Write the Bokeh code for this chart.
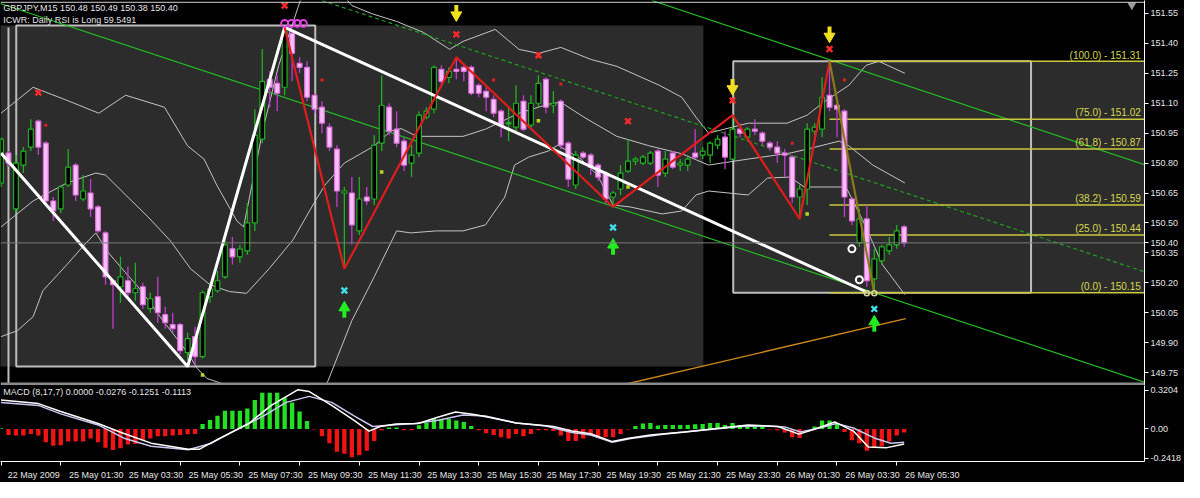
from bokeh.plotting import figure
from bokeh.layouts import column
from bokeh.models import Range1d, FixedTicker, Span, Label, PrintfTickFormatter
from bokeh.embed import file_html
from bokeh.resources import INLINE
from bokeh.core.properties import value

FONT = "Liberation Sans"
FS = "9px"
TXT = "#e4e4e4"

# ---------------- data ----------------
opens = [150.70,150.85,150.57,150.79,150.88,151.01,150.90,150.61,150.57,150.69,
         150.79,150.62,150.65,150.58,150.45,150.21,150.18,150.21,150.15,150.18,
         150.07,150.13,150.04,149.99,149.99,149.85,149.93,149.83,150.13,150.16,
         150.23,150.37,150.33,150.36,150.50,150.92,151.22,151.20,151.18,151.45,
         151.30,151.28,151.14,151.08,150.98,150.87,150.65,150.65,150.46,150.63,
         150.62,150.90,151.08,150.97,150.91,150.80,150.85,151.03,151.07,151.27,
         151.23,151.27,151.28,151.28,151.19,151.16,151.12,151.06,151.00,150.98,
         151.11,150.99,151.10,151.22,151.09,151.11,150.90,150.69,150.85,150.84,
         150.79,150.75,150.63,150.67,150.76,150.81,150.80,150.80,150.86,150.75,
         150.85,150.79,150.79,150.85,150.84,150.84,150.89,150.93,150.82,150.97,
         150.93,150.97,150.95,150.90,150.88,150.85,150.83,150.63,150.67,150.96,
         150.97,151.14,151.09,151.06,150.62,150.40,150.52,150.22,150.31,150.36,
         150.39,150.48]
highs = [150.93,150.86,150.84,150.88,151.02,151.02,150.91,150.63,150.69,150.87,
         150.80,150.74,150.72,150.59,150.46,150.22,150.33,150.28,150.30,150.20,
         150.15,150.23,150.08,150.05,150.00,149.95,149.98,150.16,150.20,150.26,
         150.44,150.43,150.39,150.60,151.07,151.37,151.26,151.24,151.48,151.47,
         151.33,151.31,151.15,151.11,151.00,150.89,150.68,150.73,150.73,150.68,
         150.94,151.24,151.10,151.06,150.93,150.89,151.06,151.08,151.29,151.29,
         151.28,151.33,151.30,151.29,151.20,151.18,151.14,151.07,151.08,151.19,
         151.14,151.14,151.24,151.23,151.16,151.12,150.91,150.86,150.86,150.85,
         150.80,150.76,150.66,150.79,150.92,150.83,150.84,150.86,150.87,150.86,
         150.86,150.82,150.83,150.97,150.88,150.91,150.94,150.96,151.04,151.00,
         150.98,151.02,150.96,150.91,150.91,150.87,150.84,150.69,151.00,151.00,
         151.23,151.31,151.10,151.07,150.63,150.57,150.59,150.37,150.39,150.43,
         150.49,150.49]
lows = [150.68,150.78,150.55,150.75,150.86,150.84,150.60,150.51,150.55,150.68,
        150.61,150.61,150.53,150.45,150.19,149.97,150.10,150.12,150.11,150.07,
        150.05,150.00,149.97,149.95,149.84,149.81,149.79,149.82,150.10,150.15,
        150.22,150.29,150.30,150.34,150.46,150.90,151.08,151.06,151.14,151.21,
        151.25,151.11,151.05,150.95,150.86,150.58,150.27,150.39,150.44,150.59,
        150.59,150.86,150.94,150.88,150.76,150.73,150.83,151.02,151.05,151.18,
        151.20,151.22,151.21,151.14,151.13,151.06,151.03,150.93,150.91,150.96,
        150.96,150.97,151.08,151.05,151.05,150.87,150.68,150.67,150.82,150.74,
        150.71,150.60,150.58,150.64,150.75,150.79,150.79,150.79,150.68,150.73,
        150.77,150.76,150.76,150.82,150.82,150.80,150.87,150.77,150.81,150.93,
        150.91,150.94,150.89,150.86,150.80,150.73,150.60,150.52,150.59,150.94,
        150.93,151.06,150.93,150.53,150.49,150.38,150.18,150.15,150.29,150.34,
        150.37,150.38]
closes = [150.92,150.80,150.80,150.86,150.97,150.88,150.61,150.56,150.68,150.78,
          150.64,150.66,150.57,150.46,150.23,150.19,150.23,150.15,150.17,150.09,
          150.12,150.05,150.00,149.97,149.86,149.92,149.83,150.15,150.17,150.21,
          150.39,150.33,150.37,150.50,150.94,151.21,151.18,151.15,151.46,151.35,
          151.28,151.13,151.07,151.00,150.88,150.66,150.66,150.49,150.62,150.61,
          150.89,151.09,150.96,150.90,150.79,150.84,151.04,151.06,151.28,151.21,
          151.26,151.26,151.26,151.15,151.15,151.13,151.05,150.99,151.00,151.10,
          150.97,151.10,151.20,151.08,151.10,150.89,150.72,150.84,150.83,150.78,
          150.73,150.62,150.65,150.75,150.81,150.82,150.83,150.85,150.74,150.82,
          150.78,150.80,150.82,150.83,150.86,150.90,150.92,150.83,150.97,150.95,
          150.97,150.96,150.91,150.88,150.85,150.84,150.63,150.67,150.97,150.98,
          151.13,151.08,151.07,150.63,150.51,150.52,150.21,150.32,150.38,150.39,
          150.46,150.40]

price_ticks = [149.75,149.90,150.05,150.20,150.35,150.50,150.65,150.80,150.95,
               151.10,151.25,151.40,151.55]
last_price = 150.40
time_ticks = [0,8,16,24,32,40,48,56,64,72,80,88,96,104,112,120]
time_labels = ["22 May 2009","25 May 01:30","25 May 03:30","25 May 05:30",
               "25 May 07:30","25 May 09:30","25 May 11:30","25 May 13:30",
               "25 May 15:30","25 May 17:30","25 May 19:30","25 May 21:30",
               "25 May 23:30","26 May 01:30","26 May 03:30","26 May 05:30"]

# Bollinger bands (bar, price) key points
upper_x = [0,4.3,8.8,13.1,16.7,21.9,25.0,27.2,28.9,31.6,32.5,35.1,37.2,40.1,42.0,44.0,
           47.0,49.6,53.0,56.6,60.1,61.9,66.2,69.4,72.0,75.0,79.0,82.5,88.2,91.2,93.1,
           94.8,100.1,105.3,108.0,110.2,113.6,115.9,117.6,121.1]
upper_y = [151.05,151.18,151.115,151.05,151.14,151.08,150.886,150.82,150.69,150.51,
           150.48,150.97,151.29,151.615,151.75,151.72,151.59,151.55,151.51,151.455,
           151.37,151.41,151.47,151.37,151.35,151.38,151.32,151.285,151.19,151.13,
           151.03,150.95,151.0,151.0,151.04,151.105,151.19,151.29,151.31,151.25]
mid_x = [0,4.3,8.8,12.7,14.0,16.7,19.7,22.7,25.4,28.0,30.6,32.9,35.9,39.1,42.1,43.4,
         46.0,50.0,52.2,53.6,55.7,61.9,64.9,69.4,73.3,75.0,78.1,82.5,86.9,91.2,94.8,
         100.1,105.7,108.0,112.3,113.6,116.8,121.1]
mid_y = [150.48,150.61,150.70,150.75,150.74,150.64,150.53,150.41,150.27,150.19,
         150.156,150.147,150.27,150.414,150.61,150.69,150.80,150.886,150.96,150.973,
         150.934,150.934,150.97,151.05,151.095,151.105,151.03,150.934,150.886,150.847,
         150.79,150.82,150.85,150.87,150.91,150.886,150.79,150.70]
lower_x = [0,2.2,4.3,5.6,8.8,11.4,12.7,14.4,16.7,18.8,21.9,25.0,26.3,27.6,31.6,35.5,
           39.5,43.4,47.0,50.0,53.0,54.9,58.3,61.9,64.9,67.5,68.8,70.7,73.3,74.6,77.7,
           79.9,82.0,84.3,88.6,91.2,93.1,94.8,100.1,102.7,105.7,107.6,113.2,115.5,118.1,121.1]
lower_y = [149.93,149.96,150.03,150.16,150.29,150.40,150.45,150.35,150.25,150.16,
           150.0,149.85,149.77,149.72,149.67,149.60,149.57,149.67,150.01,150.23,
           150.46,150.45,150.46,150.46,150.49,150.63,150.79,150.83,150.86,150.89,
           150.82,150.74,150.59,150.58,150.545,150.56,150.64,150.66,150.64,150.725,
           150.73,150.68,150.68,150.51,150.29,150.14]

# shaded zones and outlined boxes
zone_left = [-0.2, 98.1]
zone_right = [94.1, 153.4]
zone_top = [151.49, 151.31]
zone_bottom = [149.78, 150.15]
box_left = [2.04, 98.1]
box_right = [42.1, 138.0]
box_top = [151.49, 151.31]
box_bottom = [149.78, 150.15]
vline_x = [1.0]
vline_top = [151.48]
vline_bottom = [149.69]

# zigzag / trend lines
zz_bars = [38, 46, 61, 82, 98, 107, 111]
zz_prices = [151.48, 150.27, 151.33, 150.58, 151.04, 150.52, 151.31]
zz_last_bars = [111, 117]
zz_last_prices = [151.31, 150.15]
tl_bars = [0, 25, 38, 115.9]
tl_prices = [150.85, 149.78, 151.48, 150.155]
ch_low_x = [-0.1, 153.3]
ch_low_y = [151.60, 149.70]
ch_up_x = [87.2, 153.3]
ch_up_y = [151.615, 150.79]
ch_mid_x = [43.0, 153.3]
ch_mid_y = [151.615, 150.254]
orange_x = [83.5, 121.2]
orange_y = [149.69, 150.02]

# Fibonacci
fib_start = 111
fib_levels = [151.31, 151.02, 150.87, 150.59, 150.44, 150.15]
fib_texts = ["(100.0) - 151.31", "(75.0) - 151.02", "(61.8) - 150.87",
             "(38.2) - 150.59", "(25.0) - 150.44", "(0.0) - 150.15"]

# markers
redx_bars = [5, 38, 61, 72, 84, 98, 111]
redx_prices = [151.153, 151.59, 151.445, 151.34, 151.01, 151.114, 151.372]
reddot_bars = [6, 43, 66, 75, 106, 113]
reddot_prices = [150.99, 151.216, 151.216, 151.197, 150.90, 151.216]
cyanx_bars = [46, 82, 117]
cyanx_prices = [150.161, 150.477, 150.069]
up_bars = [46, 82, 117]
up_prices = [150.06, 150.375, 149.99]
down_bars = [61, 98, 111]
down_prices = [151.557, 151.187, 151.45]
gdot_bars = [27, 51, 72, 84, 108]
gdot_prices = [149.738, 150.755, 151.012, 150.68, 150.545]
wcirc_bars = [114, 115]
wcirc_prices = [150.37, 150.215]
scirc_bars = [116, 117]
scirc_prices = [150.147, 150.147]
mcirc_bars = [38.0, 38.9, 39.7, 40.5]
mcirc_prices = [151.50, 151.50, 151.50, 151.50]

# MACD
hist = [0.005,-0.05,-0.055,-0.055,-0.043,-0.055,-0.11,-0.14,-0.135,-0.105,-0.105,-0.105,
        -0.08,-0.11,-0.155,-0.175,-0.16,-0.13,-0.125,-0.093,-0.08,-0.06,-0.06,-0.055,
        -0.05,-0.045,-0.043,0.04,0.075,0.11,0.15,0.15,0.15,0.17,0.24,0.30,0.30,0.30,
        0.26,0.22,0.145,0.065,-0.005,-0.06,-0.118,-0.19,-0.205,-0.235,-0.218,-0.18,
        -0.10,-0.01,0.012,0.012,-0.01,-0.01,0.03,0.05,0.09,0.082,0.082,0.07,0.058,
        0.025,-0.01,-0.035,-0.05,-0.068,-0.08,-0.043,-0.06,-0.043,-0.01,-0.01,-0.018,
        -0.055,-0.10,-0.10,-0.08,-0.055,-0.068,-0.068,-0.068,-0.043,-0.005,0.025,0.045,
        0.05,0.028,0.033,0.033,0.033,0.033,0.038,0.04,0.05,0.05,0.033,0.05,0.033,0.033,
        0.033,0.02,-0.005,-0.01,-0.03,-0.068,-0.075,0.0,0.02,0.07,0.07,0.05,-0.025,
        -0.093,-0.118,-0.18,-0.15,-0.143,-0.105,-0.055,-0.03]
macd_x = [0,5,8,13,16.1,20.1,25.1,26.6,29.2,33.2,36.2,39.8,41.3,44.3,47.3,49.3,50.8,
          52.9,55.9,58.4,60.9,63.4,65.5,69,72,74,76.5,79,81.9,83.9,87,91.5,96.5,100.1,
          104.1,106.9,109.1,111.7,114.2,116.2,118.7,121]
macd_v = [0.24,0.21,0.145,0.045,-0.03,-0.118,-0.168,-0.168,-0.08,0.045,0.195,0.325,
          0.31,0.195,0.07,-0.018,0.02,0.04,0.045,0.095,0.14,0.12,0.095,0.05,0.033,0.02,
          -0.018,-0.04,-0.105,-0.08,-0.05,-0.025,0.008,0.033,0.02,-0.043,0.0,0.058,
          -0.018,-0.15,-0.155,-0.125]
sig_x = [0,5,8,13,16.6,20.1,25.1,28.2,31.2,35.2,38.2,41.3,44.3,47.3,49.8,52.4,55.4,
         58.4,61.9,64.9,69,73,76.5,79,81.9,84.4,89,94,99.1,102.6,105.1,107.1,110.2,
         111.9,114.2,117.2,119.2,121]
sig_v = [0.22,0.195,0.125,0.033,-0.08,-0.143,-0.173,-0.118,-0.018,0.108,0.22,0.27,
         0.22,0.108,0.02,0.033,0.045,0.07,0.115,0.108,0.05,0.025,-0.03,-0.05,-0.11,
         -0.08,-0.043,-0.01,0.02,0.025,0.015,-0.025,0.015,0.045,0.008,-0.08,-0.118,-0.111]
macd_ticks = [-0.2418, 0.0, 0.3204]
macd_tick_text = ["-0.2418", "0.00", "0.3204"]

# ---------------- figures ----------------
W = 1184
RB = 40
XR = Range1d(-0.07, 153.2)
YMIN, YMAX = 149.685, 151.615
FRAME_W = W - RB
PX_PER_BAR = FRAME_W / (XR.end - XR.start)


def style_axis(ax):
    ax.axis_line_color = "white"
    ax.major_tick_line_color = "white"
    ax.minor_tick_line_color = None
    ax.major_tick_out = 4
    ax.major_tick_in = 0
    ax.major_label_standoff = 2
    ax.major_label_text_color = TXT
    ax.major_label_text_font = FONT
    ax.major_label_text_font_size = FS


p = figure(width=W, height=385, x_range=XR, y_range=Range1d(YMIN, YMAX),
           output_backend="svg", toolbar_location=None, y_axis_location="right",
           x_axis_location=None, min_border_left=0, min_border_right=RB,
           min_border_top=0, min_border_bottom=0,
           background_fill_color="black", border_fill_color="black")
p.grid.visible = False
p.outline_line_color = None

p.quad(left=zone_left, right=zone_right, top=zone_top, bottom=zone_bottom,
       fill_color="#2c2c2c", line_color=None)
p.quad(left=box_left, right=box_right, top=box_top, bottom=box_bottom,
       fill_color=None, line_color="#bdbdbd", line_width=2)
p.segment(x0=vline_x, x1=vline_x, y0=vline_bottom, y1=vline_top,
          line_color="#bdbdbd", line_width=2)

p.add_layout(Span(location=last_price, dimension="width", line_color="#7a7a7a", line_width=1))

for bx, by in ((upper_x, upper_y), (mid_x, mid_y), (lower_x, lower_y)):
    p.line(bx, by, line_color="#c4c4c4", line_width=1)

p.line(ch_low_x, ch_low_y, line_color="#22c022", line_width=1.2)
p.line(ch_up_x, ch_up_y, line_color="#22c022", line_width=1.2)
p.line(ch_mid_x, ch_mid_y, line_color="#1fa01f", line_width=1.2, line_dash="4 3")
p.line(orange_x, orange_y, line_color="#d08a1c", line_width=1.3)

fib_end = [XR.end] * len(fib_levels)
p.segment(x0=[fib_start] * len(fib_levels), x1=fib_end, y0=fib_levels, y1=fib_levels,
          line_color="#c9c93a", line_width=1.5)
p.text(x=[XR.end - 0.5] * len(fib_levels), y=[v + 0.004 for v in fib_levels], text=fib_texts,
       text_font=value(FONT), text_font_size="10px", text_color="#d8d84e",
       text_align="right", text_baseline="bottom")

idx = list(range(len(opens)))
bull = [c >= o for o, c in zip(opens, closes)]
wick_col = ["#22b022" if b else "#c23ccf" for b in bull]
body_fill = ["#000000" if b else "#f9bdf9" for b in bull]
body_line = ["#22b022" if b else "#e070e0" for b in bull]
tops = [max(o, c) + (0.003 if abs(c - o) < 0.006 else 0) for o, c in zip(opens, closes)]
bots = [min(o, c) - (0.003 if abs(c - o) < 0.006 else 0) for o, c in zip(opens, closes)]
p.segment(x0=idx, x1=idx, y0=lows, y1=highs, line_color=wick_col, line_width=1.3)
p.vbar(x=idx, top=tops, bottom=bots, width=0.64, fill_color=body_fill,
       line_color=body_line, line_width=1.2)

p.line(tl_bars, tl_prices, line_color="white", line_width=3)
p.line(zz_bars, zz_prices, line_color="#e01c1c", line_width=2.2)
p.line(zz_last_bars, zz_last_prices, line_color="#8a7a18", line_width=2.2)

# markers
p.scatter(redx_bars, redx_prices, marker="x", size=8, line_color="#ff2a2a", line_width=2.4)
p.scatter(reddot_bars, reddot_prices, marker="square", size=3, fill_color="#e02020", line_color=None)
p.scatter(cyanx_bars, cyanx_prices, marker="x", size=8, line_color="#40e0e8", line_width=2.4)
p.scatter(gdot_bars, gdot_prices, marker="square", size=3.5, fill_color="#b8d820", line_color=None)
p.scatter(wcirc_bars, wcirc_prices, marker="circle", size=7, fill_color=None, line_color="white", line_width=2)
p.scatter(scirc_bars, scirc_prices, marker="circle", size=5, fill_color=None, line_color="#d8d8a0", line_width=1.5)
p.scatter(mcirc_bars, mcirc_prices, marker="circle", size=7, fill_color=None, line_color="#e040e0", line_width=2)
# arrows
p.segment(x0=down_bars, x1=down_bars, y0=[v - 0.003 for v in down_prices],
          y1=[v + 0.035 for v in down_prices], line_color="#f0e020", line_width=4)
p.scatter(down_bars, [v - 0.015 for v in down_prices], marker="inverted_triangle", size=11,
          fill_color="#f0e020", line_color="#f0e020")
p.segment(x0=up_bars, x1=up_bars, y0=[v + 0.003 for v in up_prices],
          y1=[v - 0.035 for v in up_prices], line_color="#22ee22", line_width=4)
p.scatter(up_bars, [v + 0.015 for v in up_prices], marker="triangle", size=11,
          fill_color="#22ee22", line_color="#22ee22")
p.scatter([151.5], [151.592], marker="inverted_triangle", size=9, fill_color="#9a9a9a", line_color=None)

p.add_layout(Span(location=151.606, dimension="width", line_color="#d0d0d0", line_width=1))
p.add_layout(Span(location=149.692, dimension="width", line_color="#8a8a8a", line_width=3))

p.add_layout(Label(x=0.3, y=151.60, text="GBPJPY,M15  150.48 150.49 150.38 150.40",
                   text_font=FONT, text_font_size=FS, text_color=TXT, text_baseline="top"))
p.add_layout(Label(x=0.3, y=151.54, text="ICWR: Daily RSI is Long 59.5491",
                   text_font=FONT, text_font_size=FS, text_color=TXT, text_baseline="top"))

p_ticks = price_ticks + [last_price]
p.yaxis.ticker = FixedTicker(ticks=p_ticks)
p.yaxis.major_label_overrides = {last_price: "150.40"}
p.yaxis.formatter = PrintfTickFormatter(format="%.2f")
style_axis(p.yaxis)

# MACD panel
QMIN, QMAX = -0.27, 0.36
q = figure(width=W, height=97, x_range=XR, y_range=Range1d(QMIN, QMAX),
           output_backend="svg", toolbar_location=None, y_axis_location="right",
           min_border_left=0, min_border_right=RB, min_border_top=0, min_border_bottom=0,
           background_fill_color="black", border_fill_color="black")
q.grid.visible = False
q.outline_line_color = None
hcol = ["#22e022" if v > 0 else "#f01414" for v in hist]
q.vbar(x=idx, top=hist, bottom=0, width=0.58, fill_color=hcol, line_color=None)
q.line(sig_x, sig_v, line_color="#c8c8f0", line_width=1.5)
q.line(macd_x, macd_v, line_color="white", line_width=1.5)
q.add_layout(Label(x=0.3, y=0.345, text="MACD  (8,17,7) 0.0000 -0.0276 -0.1251 -0.1113",
                   text_font=FONT, text_font_size=FS, text_color=TXT, text_baseline="top"))

q.yaxis.ticker = FixedTicker(ticks=macd_ticks)
q.yaxis.major_label_overrides = dict(zip(macd_ticks, macd_tick_text))
style_axis(q.yaxis)

# time axis: short white marks at the bar ticks (minor), labels just right of them
label_px = [5.6 * len(s) / 2 + 2 for s in time_labels]
label_pos = [t + w / PX_PER_BAR for t, w in zip(time_ticks, label_px)]
q.xaxis.ticker = FixedTicker(ticks=label_pos, minor_ticks=time_ticks)
q.xaxis.major_label_overrides = dict(zip(label_pos, time_labels))
style_axis(q.xaxis)
q.xaxis.major_tick_line_color = None
q.xaxis.major_tick_out = 0
q.xaxis.minor_tick_line_color = "white"
q.xaxis.minor_tick_out = 4
q.xaxis.minor_tick_in = 0
q.xaxis.major_label_standoff = 4

layout = column(p, q, spacing=0, styles={"background-color": "black"})
open("out.html", "w").write(file_html(layout, INLINE))
